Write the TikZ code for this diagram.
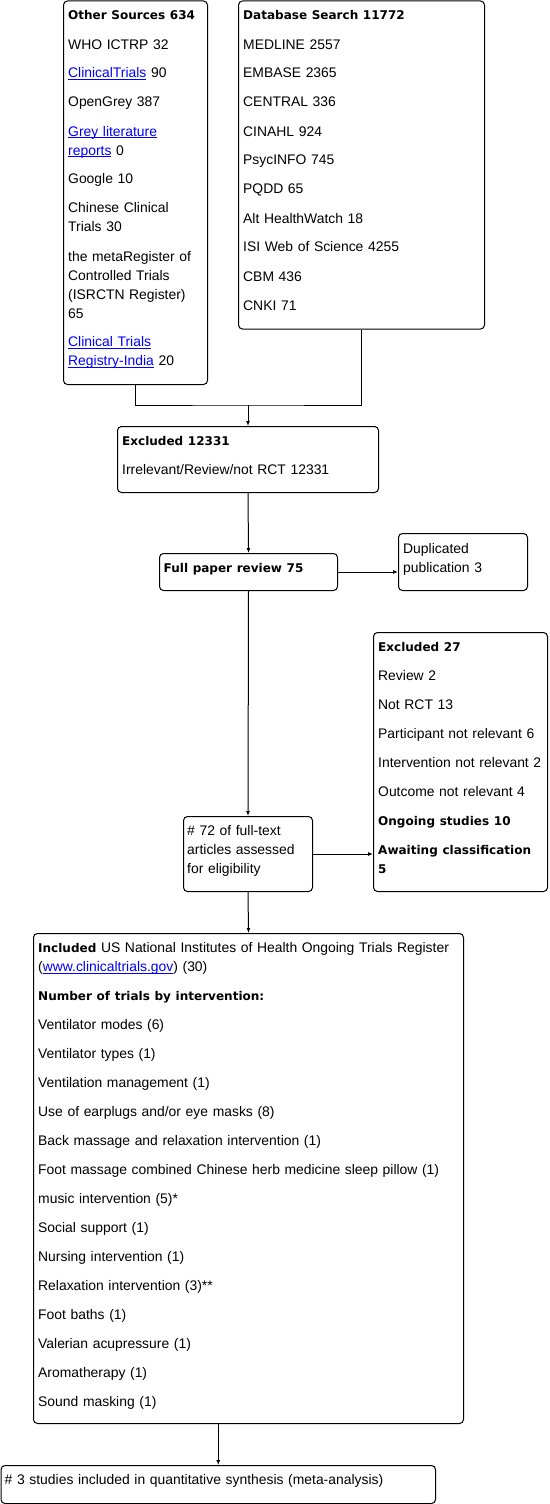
\documentclass[tikz,border=0pt]{standalone}
\usepackage{fontspec}
\setmainfont{Liberation Sans}
\newfontfamily\hdfont{DejaVu Sans}[Scale=0.865]
\usetikzlibrary{arrows.meta}
\definecolor{linkblue}{RGB}{0,0,255}
\newcommand\hd[1]{{\hdfont\bfseries #1}}
\newsavebox\lnkbox
\newcommand\lnk[1]{\leavevmode{\color{linkblue}\sbox\lnkbox{#1}\rlap{\rule[-2.4pt]{\wd\lnkbox}{0.9pt}}\usebox\lnkbox}}
\tikzset{
  box/.style={draw, rounded corners=4pt, line width=1pt, anchor=north west, inner sep=0pt},
  txt/.style={anchor=base west, text width=#1, align=left, inner sep=0pt,
    font=\fontsize{13.9}{19}\selectfont, execute at begin node={\setlength{\parskip}{10pt}}},
  conn/.style={line width=1pt},
  arr/.style={line width=1pt, -{Latex[length=5pt,width=4pt]}}
}
\begin{document}
\begin{tikzpicture}[x=1pt,y=-1pt]
\useasboundingbox (0,0) rectangle (549,1504);
% boxes
\node[box, minimum width=144pt, minimum height=383.5pt] (os) at (63,0.5) {};
\node[box, minimum width=246pt, minimum height=328pt] (db) at (238,0.5) {};
\node[box, minimum width=261pt, minimum height=66pt] (ex1) at (117,426) {};
\node[box, minimum width=178pt, minimum height=37pt] (fp) at (159,553) {};
\node[box, minimum width=129pt, minimum height=57pt] (dup) at (398,533) {};
\node[box, minimum width=174pt, minimum height=259pt] (ex2) at (373,632) {};
\node[box, minimum width=129pt, minimum height=75pt] (e72) at (183,816) {};
\node[box, minimum width=430pt, minimum height=490pt] (inc) at (33,933) {};
\node[box, minimum width=434.5pt, minimum height=38pt] (fin) at (0.5,1465) {};
% texts
\node[txt=140pt] (ost) at (68,20) {\hd{Other Sources 634}\par
WHO ICTRP 32\par
\lnk{ClinicalTrials} 90\par
OpenGrey 387\par
\lnk{Grey literature}\\\lnk{reports} 0\par
Google 10\par
Chinese Clinical\\Trials 30\par
the metaRegister of\\Controlled Trials\\(ISRCTN Register)\\65\par
\lnk{Clinical Trials}\\\lnk{Registry-India} 20};
\node[txt=240pt] (dbt) at (243,20) {\hd{Database Search 11772}\par
MEDLINE 2557\par
EMBASE 2365\par
CENTRAL 336\par
CINAHL 924\par
PsycINFO 745\par
PQDD 65\par
Alt HealthWatch 18\par
ISI Web of Science 4255\par
CBM 436\par
CNKI 71};
\node[txt=255pt] (ex1t) at (122,445.5) {\hd{Excluded 12331}\par
Irrelevant/Review/not RCT 12331};
\node[txt=175pt] (fpt) at (163.5,572) {\hd{Full paper review 75}};
\node[txt=125pt] (dupt) at (403,553) {Duplicated\\publication 3};
\node[txt=170pt] (ex2t) at (378,651.5) {\hd{Excluded 27}\par
Review 2\par
Not RCT 13\par
Participant not relevant 6\par
Intervention not relevant 2\par
Outcome not relevant 4\par
\hd{Ongoing studies 10}\par
\hd{Awaiting classification}\\\hd{5}};
\node[txt=125pt] (e72t) at (187,835) {\# 72 of full-text\\articles assessed\\for eligibility};
\node[txt=425pt] (inct) at (38,952.5) {\hd{Included} US National Institutes of Health Ongoing Trials Register\\(\lnk{www.clinicaltrials.gov}) (30)\par
\hd{Number of trials by intervention:}\par
Ventilator modes (6)\par
Ventilator types (1)\par
Ventilation management (1)\par
Use of earplugs and/or eye masks (8)\par
Back massage and relaxation intervention (1)\par
Foot massage combined Chinese herb medicine sleep pillow (1)\par
music intervention (5)*\par
Social support (1)\par
Nursing intervention (1)\par
Relaxation intervention (3)**\par
Foot baths (1)\par
Valerian acupressure (1)\par
Aromatherapy (1)\par
Sound masking (1)};
\node[txt=430pt] (fint) at (4.5,1484.5) {\# 3 studies included in quantitative synthesis (meta-analysis)};
% connectors
\coordinate (j) at (248,405);
\draw[conn] (os.south) |- (j) -| (db.south);
\draw[arr] (j) -- (ex1.north);
\draw[arr] (ex1.south) -- (fp.north);
\draw[arr] (fp.east) -- (fp.east -| dup.west);
\draw[arr] (fp.south) -- (e72.north);
\draw[arr] (e72.east) -- (e72.east -| ex2.west);
\draw[arr] (e72.south) -- (inc.north);
\draw[arr] (fin.north |- inc.south) -- (fin.north);
\end{tikzpicture}
\end{document}
